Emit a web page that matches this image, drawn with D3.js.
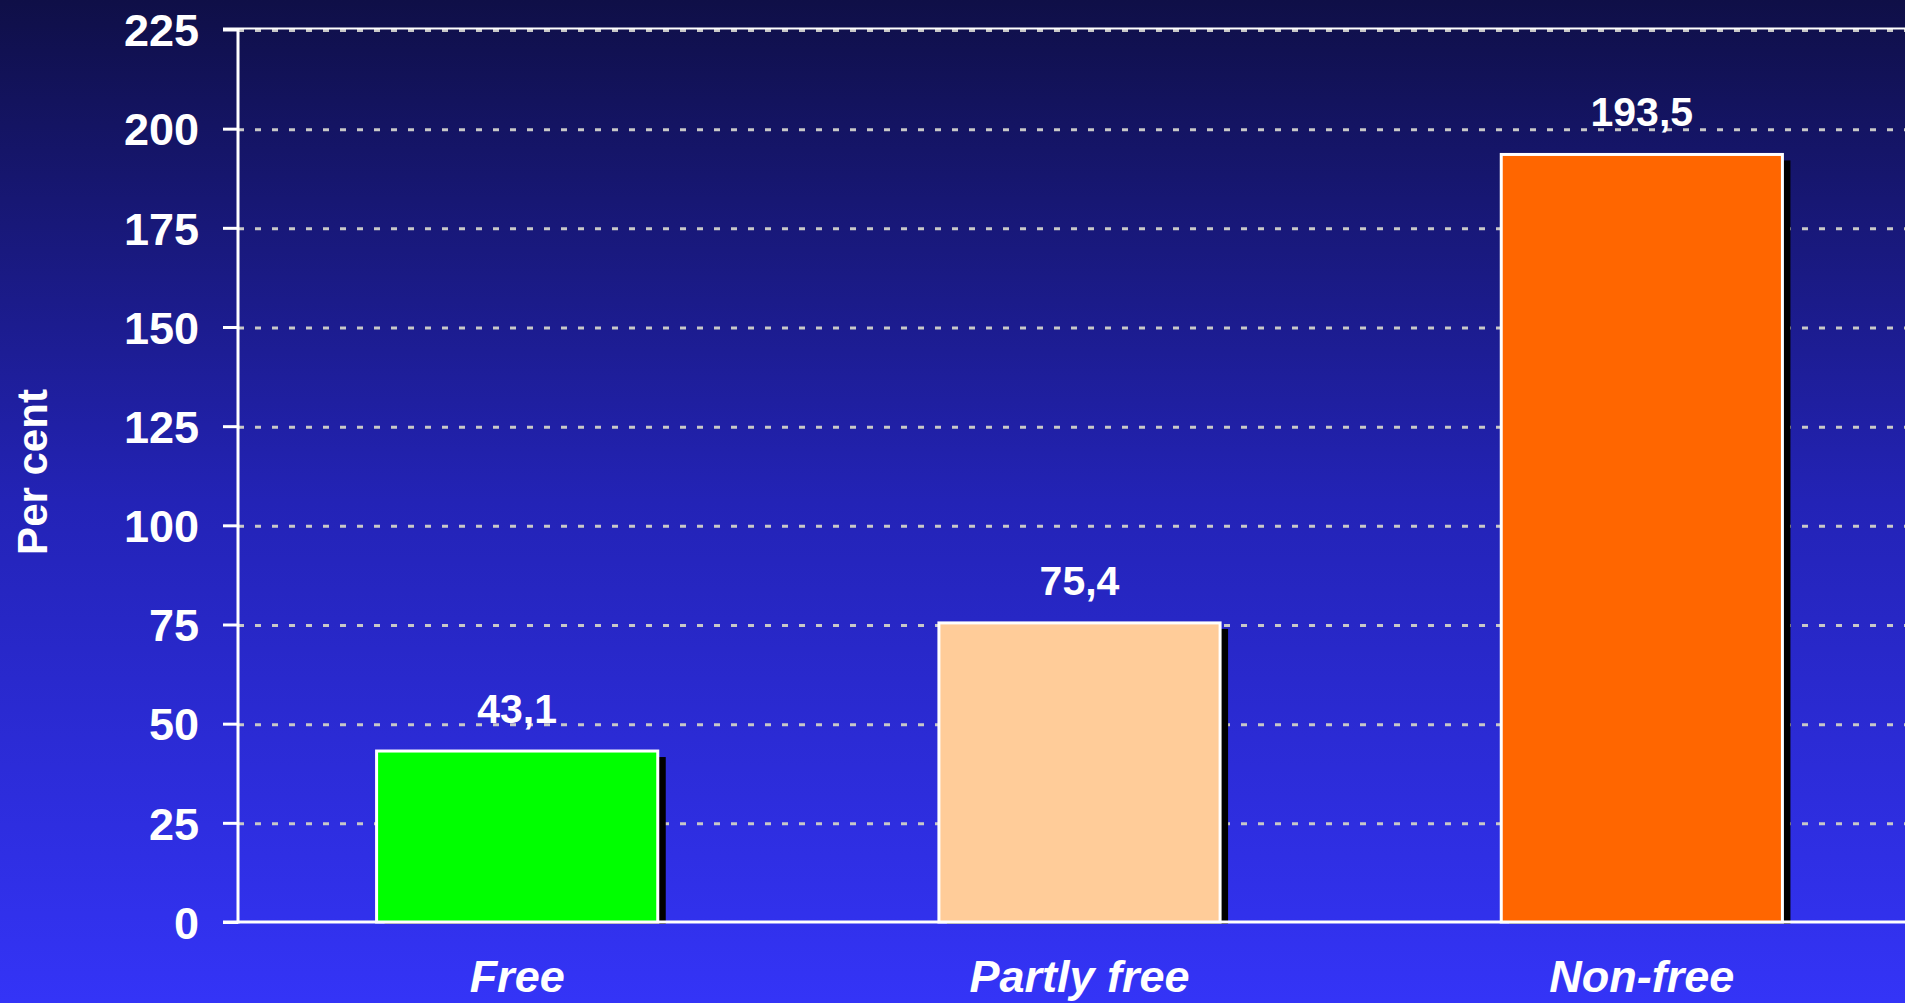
<!DOCTYPE html>
<html>
<head>
<meta charset="utf-8">
<script src="https://cdn.jsdelivr.net/npm/d3@7"></script>
<style>
html,body{margin:0;padding:0;overflow:hidden;background:#10104a;}
svg{display:block;font-family:"Liberation Sans",Arial,sans-serif;}
</style>
</head>
<body>
<script>
const categories = ["Free", "Partly free", "Non-free"];
const values = [43.1, 75.4, 193.5];
const valueLabels = ["43,1", "75,4", "193,5"];
const barColors = ["#00ff00", "#ffcc99", "#ff6600"];
const tickValues = [0, 25, 50, 75, 100, 125, 150, 175, 200, 225];
const yTitle = "Per cent";

const W = 1905, H = 1003;
const svg = d3.select("body").append("svg").attr("width", W).attr("height", H);

const defs = svg.append("defs");
const grad = defs.append("linearGradient").attr("id", "bg").attr("x1", 0).attr("y1", 0).attr("x2", 0).attr("y2", 1);
grad.append("stop").attr("offset", "0%").attr("stop-color", "#0f0f47");
grad.append("stop").attr("offset", "50%").attr("stop-color", "#2323b6");
grad.append("stop").attr("offset", "100%").attr("stop-color", "#3434f7");
svg.append("rect").attr("width", W).attr("height", H).attr("fill", "url(#bg)");

const axisX = 238, y0 = 922, yTop = 29.5;
const y = d3.scaleLinear().domain([0, 225]).range([y0, yTop]);
const x = d3.scaleBand().domain(categories).range([236, 1923]).paddingInner(0.5).paddingOuter(0.25);

// gridlines
svg.append("g").selectAll("line").data(tickValues.filter(d => d > 0)).join("line")
  .attr("x1", axisX).attr("x2", W)
  .attr("y1", d => y(d) + 1).attr("y2", d => y(d) + 1)
  .attr("stroke", "#c8c8c8").attr("stroke-width", 3)
  .attr("stroke-dasharray", "6 11");
// top border line
svg.append("line").attr("x1", 223).attr("x2", W).attr("y1", y(225) - 1).attr("y2", y(225) - 1)
  .attr("stroke", "#ffffff").attr("stroke-width", 2);

// y axis
const yAxis = d3.axisLeft(y).tickValues(tickValues).tickSize(15).tickPadding(24).tickFormat(d3.format("d"));
const gy = svg.append("g").attr("transform", `translate(${axisX},0)`).call(yAxis);
gy.select(".domain").remove();
gy.selectAll(".tick line").attr("stroke", "#fff").attr("stroke-width", 3);
gy.selectAll(".tick text").attr("fill", "#fff").attr("font-size", 45).attr("font-weight", "bold")
  .attr("font-family", "Liberation Sans, Arial, sans-serif").attr("dy", "0.36em");
svg.append("line").attr("x1", axisX).attr("x2", axisX).attr("y1", yTop - 1).attr("y2", y0 + 1.5)
  .attr("stroke", "#fff").attr("stroke-width", 3);

// shadows
svg.append("g").selectAll("rect").data(values).join("rect")
  .attr("x", (d, i) => x(categories[i]) + 8)
  .attr("y", d => y(d) + 6)
  .attr("width", x.bandwidth())
  .attr("height", d => (y0 + 2) - (y(d) + 6))
  .attr("fill", "#000");

// x axis line
svg.append("line").attr("x1", 223).attr("x2", W).attr("y1", y0).attr("y2", y0)
  .attr("stroke", "#fff").attr("stroke-width", 3);

// bars
svg.append("g").selectAll("rect").data(values).join("rect")
  .attr("x", (d, i) => x(categories[i]))
  .attr("y", d => y(d))
  .attr("width", x.bandwidth())
  .attr("height", d => y0 - y(d))
  .attr("fill", (d, i) => barColors[i])
  .attr("stroke", "#fff").attr("stroke-width", 3);

// value labels
svg.append("g").selectAll("text").data(values).join("text")
  .attr("x", (d, i) => x(categories[i]) + x.bandwidth() / 2)
  .attr("y", d => y(d) - 28)
  .attr("text-anchor", "middle").attr("fill", "#fff")
  .attr("font-size", 41).attr("font-weight", "bold")
  .text((d, i) => valueLabels[i]);

// category labels
svg.append("g").selectAll("text").data(categories).join("text")
  .attr("x", d => x(d) + x.bandwidth() / 2)
  .attr("y", 992)
  .attr("text-anchor", "middle").attr("fill", "#fff")
  .attr("font-size", 45).attr("font-weight", "bold").attr("font-style", "italic")
  .text(d => d);

// y title
svg.append("text").attr("transform", "translate(47,472) rotate(-90)")
  .attr("text-anchor", "middle").attr("fill", "#fff")
  .attr("font-size", 42).attr("font-weight", "bold")
  .text(yTitle);
</script>
</body>
</html>
